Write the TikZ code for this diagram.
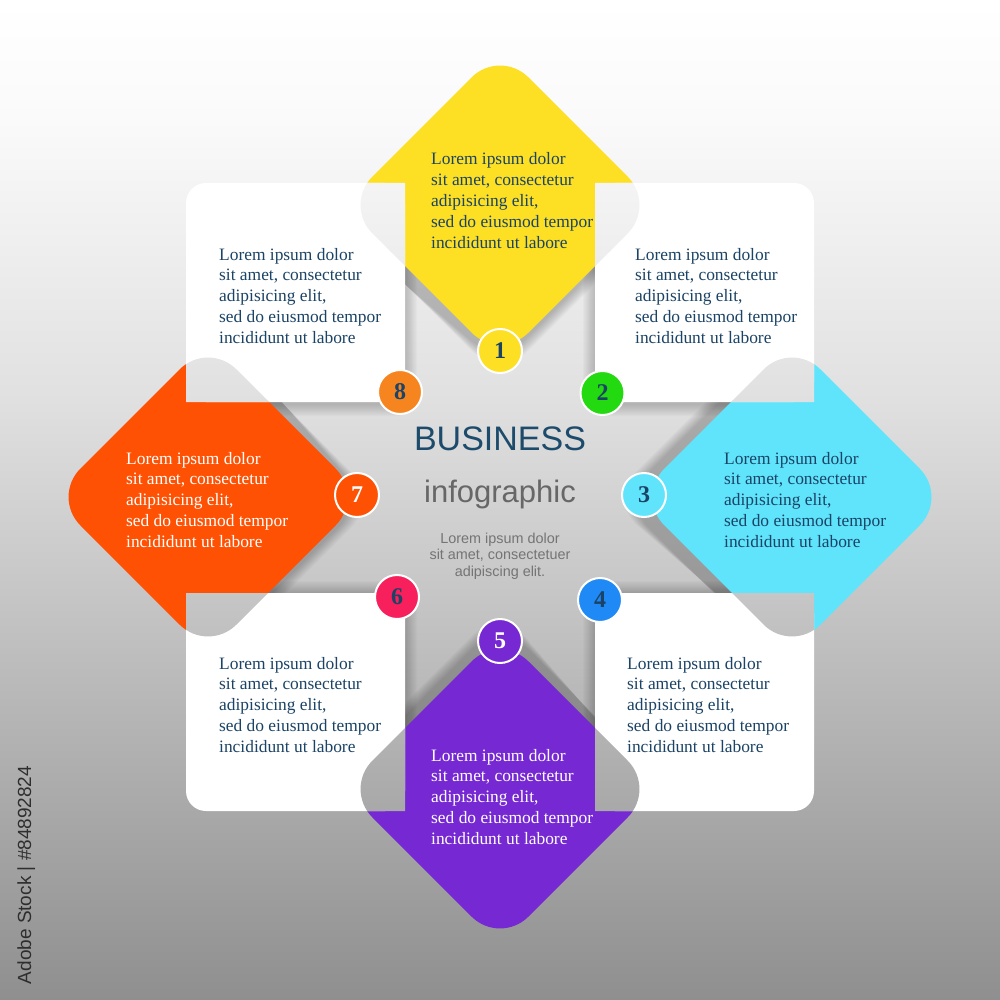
\documentclass[tikz,border=0pt]{standalone}
\usepackage{fontspec}
\setmainfont{Liberation Serif}
\setsansfont{Liberation Sans}
\definecolor{bgA}{HTML}{FFFFFF}
\definecolor{bgB}{HTML}{FAFAFA}
\definecolor{bgC}{HTML}{EEEEEE}
\definecolor{bgD}{HTML}{E0E0E0}
\definecolor{bgE}{HTML}{BEBEBE}
\definecolor{bgF}{HTML}{8F8F8F}
\definecolor{yellowc}{HTML}{FDE023}
\definecolor{cyanc}{HTML}{5FE4FB}
\definecolor{orangec}{HTML}{FE5103}
\definecolor{purplec}{HTML}{7628D2}
\definecolor{ceight}{HTML}{F7851F}
\definecolor{ctwo}{HTML}{23D90F}
\definecolor{cfour}{HTML}{1F8AF5}
\definecolor{csix}{HTML}{F71F5C}
\definecolor{navy}{HTML}{1B4365}
\definecolor{bizblue}{HTML}{1D4B6C}
\definecolor{infogray}{HTML}{676767}
\definecolor{smallgray}{HTML}{747474}
\definecolor{wmgray}{HTML}{2E2E2E}
\newcommand\diapath[3]{(#1,#2-#3) -- (#1+#3,#2) -- (#1,#2+#3) -- (#1-#3,#2) -- cycle}
\newcommand\bgfill{%
  \shade[top color=bgA, bottom color=bgB] (0,0) rectangle (1000,121);
  \shade[top color=bgB, bottom color=bgC] (0,120) rectangle (1000,251);
  \shade[top color=bgC, bottom color=bgD] (0,250) rectangle (1000,401);
  \shade[top color=bgD, bottom color=bgE] (0,400) rectangle (1000,651);
  \shade[top color=bgE, bottom color=bgF] (0,650) rectangle (1000,1000);}
\newcommand\lorembody{\parbox[t]{210pt}{\fontsize{17.4}{20.8}\selectfont\raggedright Lorem ipsum dolor\\sit amet, consectetur\\adipisicing elit,\\sed do eiusmod tempor\\incididunt ut labore}}
\begin{document}
\begin{tikzpicture}[x=1pt,y=-1pt,
  lor/.style={anchor=base west, inner sep=0pt},
  num/.style={circle, draw=white, line width=2pt, minimum size=44pt, inner sep=0pt, text=navy,
    font=\bfseries\fontsize{24}{24}\selectfont},
  wbox/.style={fill=white, rounded corners=20pt},
  dia/.style={rounded corners=40pt}]
\useasboundingbox (0,0) rectangle (1000,1000);
% background
\bgfill
% soft shadows in the central cross
\begin{scope}
  \clip (405,183) rectangle (595,811) (186,402) rectangle (814,593);
  \foreach \k in {0,...,9}{
    \fill[black, opacity=0.022, rounded corners=40pt] \diapath{500}{208}{171-1.5*\k};
    \fill[black, opacity=0.022, rounded corners=40pt] \diapath{792}{500}{171-1.5*\k};
    \fill[black, opacity=0.022, rounded corners=40pt] \diapath{500}{792}{171-1.5*\k};
    \fill[black, opacity=0.022, rounded corners=40pt] \diapath{208}{500}{171-1.5*\k};
    \fill[black, opacity=0.018, rounded corners=20pt] (186-12+1.2*\k,183-12+1.2*\k) rectangle (405+12-1.2*\k,402+14-1.2*\k);
    \fill[black, opacity=0.018, rounded corners=20pt] (595-12+1.2*\k,183-12+1.2*\k) rectangle (814+12-1.2*\k,402+14-1.2*\k);
    \fill[black, opacity=0.018, rounded corners=20pt] (186-12+1.2*\k,593-12+1.2*\k) rectangle (405+12-1.2*\k,811+14-1.2*\k);
    \fill[black, opacity=0.018, rounded corners=20pt] (595-12+1.2*\k,593-12+1.2*\k) rectangle (814+12-1.2*\k,811+14-1.2*\k);
  }
\end{scope}
% coloured diamonds
\fill[yellowc, dia] \diapath{500}{205}{156};
\fill[cyanc, dia] \diapath{792}{497}{156};
\fill[purplec, dia] \diapath{500}{789}{156};
\fill[orangec, dia] \diapath{208}{497}{156};
% white boxes
\fill[wbox] (186,183) rectangle (405,402);
\fill[wbox] (595,183) rectangle (814,402);
\fill[wbox] (186,593) rectangle (405,811);
\fill[wbox] (595,593) rectangle (814,811);
% diamond parts over the boxes show the background
\begin{scope}
  \clip (186,183) rectangle (405,402) (595,183) rectangle (814,402)
        (186,593) rectangle (405,811) (595,593) rectangle (814,811);
  \clip[dia] \diapath{500}{205}{156} \diapath{792}{497}{156} \diapath{500}{789}{156} \diapath{208}{497}{156};
  \bgfill
\end{scope}
% centre title
\node[anchor=base, inner sep=0pt, text=bizblue, font=\sffamily\fontsize{34}{34}\selectfont] (biz) at (500,450) {BUSINESS};
\node[anchor=base, inner sep=0pt, text=infogray, font=\sffamily\fontsize{31}{31}\selectfont] (info) at (500,502) {infographic};
\node[anchor=base, inner sep=0pt, text=smallgray] (small) at (500,543)
  {\parbox[t]{200pt}{\centering\sffamily\fontsize{14.4}{16.7}\selectfont Lorem ipsum dolor\\sit amet, consectetuer\\adipiscing elit.}};
% texts
\node[lor, text=navy] (t1) at (431,165) {\lorembody};
\node[lor, text=navy] (t8) at (219,260) {\lorembody};
\node[lor, text=navy] (t2) at (635,260) {\lorembody};
\node[lor, text=navy] (t3) at (724,464) {\lorembody};
\node[lor, text=white] (t7) at (126,464) {\lorembody};
\node[lor, text=navy] (t6) at (219,669) {\lorembody};
\node[lor, text=navy] (t4) at (627,669) {\lorembody};
\node[lor, text=white] (t5) at (431,761) {\lorembody};
% number circles
\node[num, fill=yellowc] (n1) at (500,351) {1};
\node[num, fill=ctwo] (n2) at (602.5,393) {2};
\node[num, fill=cyanc] (n3) at (644,495) {3};
\node[num, fill=cfour] (n4) at (600,600) {4};
\node[num, fill=purplec, text=white] (n5) at (500,641) {5};
\node[num, fill=csix] (n6) at (397,597) {6};
\node[num, fill=orangec, text=white] (n7) at (357,495) {7};
\node[num, fill=ceight] (n8) at (400,392) {8};
% side label
\node[rotate=90, anchor=base, inner sep=0pt, text=wmgray, font=\sffamily\fontsize{19}{19}\selectfont] (wm) at (31,875) {Adobe Stock | \#84892824};
\end{tikzpicture}
\end{document}
